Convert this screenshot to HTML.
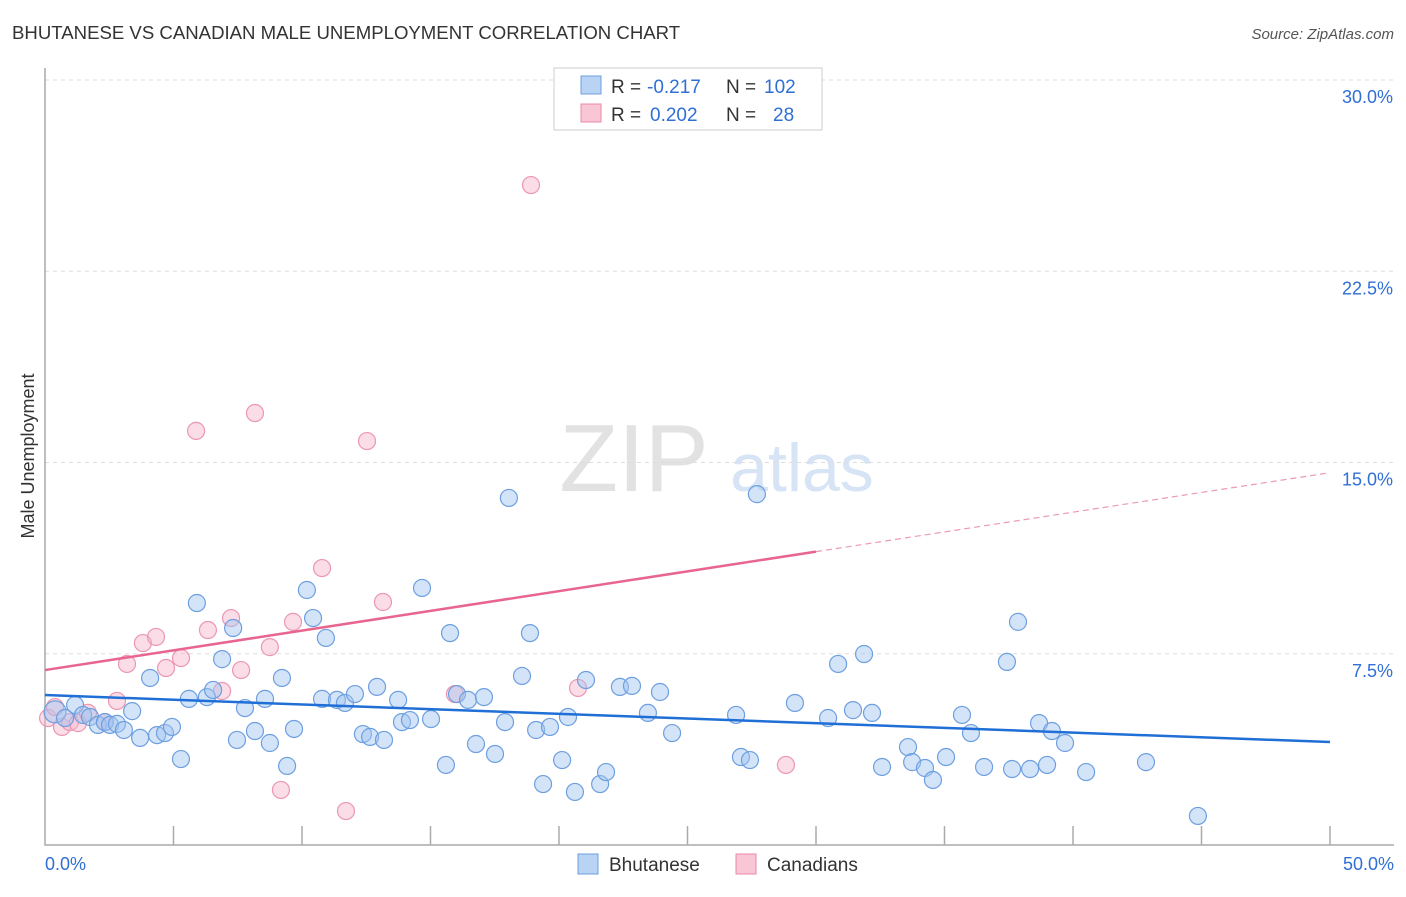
<!DOCTYPE html>
<html><head><meta charset="utf-8"><style>
body{margin:0;background:#fff;font-family:"Liberation Sans",sans-serif;}
svg text{font-family:"Liberation Sans",sans-serif;}
</style></head><body>
<svg id="c" width="1406" height="892">
<text x="12" y="39" font-size="18.6" fill="#333">BHUTANESE VS CANADIAN MALE UNEMPLOYMENT CORRELATION CHART</text>
<text x="1394" y="39" font-size="15" fill="#555" font-style="italic" text-anchor="end">Source: ZipAtlas.com</text>
<text x="634" y="491" font-size="96" fill="#e2e2e2" font-family="Liberation Serif" text-anchor="middle">ZIP</text>
<text x="802" y="491" font-size="68" fill="#d6e4f5" text-anchor="middle">atlas</text>
<text transform="translate(34,456) rotate(-90)" font-size="18" fill="#333" text-anchor="middle">Male Unemployment</text>
<g id="grid"></g><g id="pts"></g><g id="trend"></g>
<g>
<rect x="554" y="68" width="268" height="62" fill="#fff" stroke="#ccc"/>
<rect x="581" y="76" width="20" height="18" fill="#b9d3f5" stroke="#6d9fe0"/>
<rect x="581" y="104" width="20" height="18" fill="#f9c6d5" stroke="#e98aa8"/>
<text x="611" y="93" font-size="19" fill="#333">R =</text>
<text x="647" y="93" font-size="19" fill="#2f6fd6">-0.217</text>
<text x="726" y="93" font-size="19" fill="#333">N =</text>
<text x="764" y="93" font-size="19" fill="#2f6fd6">102</text>
<text x="611" y="121" font-size="19" fill="#333">R =</text>
<text x="650" y="121" font-size="19" fill="#2f6fd6">0.202</text>
<text x="726" y="121" font-size="19" fill="#333">N =</text>
<text x="773" y="121" font-size="19" fill="#2f6fd6">28</text>
</g>
<g>
<rect x="578" y="854" width="20" height="20" fill="#b9d3f5" stroke="#6d9fe0"/>
<text x="609" y="871" font-size="19" fill="#333">Bhutanese</text>
<rect x="736" y="854" width="20" height="20" fill="#f9c6d5" stroke="#e98aa8"/>
<text x="767" y="871" font-size="19" fill="#333">Canadians</text>
</g>
</svg>
<script>
const yTicks=[7.5,15,22.5,30];
const yTickLabels=["7.5%","15.0%","22.5%","30.0%"];
const xTicks=[0,5,10,15,20,25,30,35,40,45,50];
const xEndLabels=["0.0%","50.0%"];
const blueX=[0.39,0.78,1.17,1.48,1.75,2.06,2.33,2.53,2.80,3.07,3.39,3.70,4.09,4.36,4.67,4.94,5.29,5.60,5.91,6.30,6.54,6.89,7.32,7.47,7.78,8.17,8.56,8.75,9.22,9.42,9.69,10.19,10.43,10.78,10.93,11.36,11.67,12.06,12.37,12.65,12.92,13.19,13.74,13.89,14.20,14.67,15.02,15.60,15.76,16.03,16.46,16.77,17.08,17.51,17.90,18.05,18.56,18.87,19.11,19.38,19.65,20.12,20.35,20.62,21.05,21.60,21.83,22.37,22.84,23.46,23.93,24.40,26.89,27.08,27.43,27.70,29.18,30.47,30.86,31.44,31.87,32.18,32.57,33.58,33.74,34.24,34.55,35.06,35.68,36.03,36.54,37.43,37.63,37.86,38.33,38.68,38.99,39.18,39.69,40.51,42.84,44.86];
const blueY=[5.22,4.98,5.49,5.10,5.02,4.71,4.82,4.71,4.75,4.51,5.25,4.20,6.55,4.31,4.39,4.63,3.37,5.73,9.49,5.80,6.08,7.29,8.51,4.12,5.37,4.47,5.73,4.00,6.55,3.10,4.55,10.0,8.90,5.73,8.12,5.69,5.57,5.92,4.35,4.24,6.20,4.12,5.69,4.82,4.90,10.08,4.94,3.14,8.31,5.92,5.69,3.96,5.80,3.57,4.82,13.61,6.63,8.31,4.51,2.39,4.63,3.33,5.02,2.08,6.47,2.39,2.86,6.20,6.24,5.18,6.00,4.39,5.10,3.45,3.33,13.76,5.57,4.98,7.10,5.29,7.49,5.18,3.06,3.84,3.25,3.02,2.55,3.45,5.10,4.39,3.06,7.18,2.98,8.75,2.98,4.78,3.14,4.47,4.00,2.86,3.25,1.14];
const pinkX=[0.12,0.39,0.66,0.97,1.28,1.67,2.33,2.80,3.19,3.81,4.32,4.71,5.29,5.88,6.34,6.89,7.24,7.63,8.17,8.75,9.18,9.65,10.78,11.71,12.53,13.15,15.95,18.91,20.74,28.83];
const pinkY=[4.98,5.41,4.63,4.82,4.78,5.18,4.82,5.65,7.10,7.92,8.16,6.94,7.33,16.24,8.43,6.04,8.90,6.86,16.94,7.76,2.16,8.75,10.86,1.33,15.84,9.53,5.92,25.88,6.16,3.14];
const blueTrend=[5.88,4.04];
const pinkTrend=[6.86,14.6];
const pinkSolidEnd=30;
const NS="http://www.w3.org/2000/svg";
const X=v=>45+v*25.7, Y=v=>845-v*25.5;
function mk(tag,attrs,parent){const e=document.createElementNS(NS,tag);for(const k in attrs)e.setAttribute(k,attrs[k]);parent.appendChild(e);return e;}
const grid=document.getElementById('grid');
yTicks.forEach((t,i)=>{
 const l=mk('line',{x1:45,x2:1394,y1:Y(t),y2:Y(t),stroke:'#ddd','stroke-dasharray':'4,4'},grid);
 
 
 const tx=mk('text',{x:1393,y:Y(t)+23,'font-size':18,fill:'#2f6fd6','text-anchor':'end'},grid);
 tx.textContent=yTickLabels[i];
 
 
});
const ax=mk('path',{d:`M45,68 V845 H1394`,fill:'none',stroke:'#aaa','stroke-width':1.5},grid);


xTicks.forEach(t=>{
 if(t===0)return;
 const l=mk('line',{x1:X(t),x2:X(t),y1:826,y2:845,stroke:'#aaa','stroke-width':1.5},grid);
 
 
});
[[0,'start',45],[50,'end',1394]].forEach((d,i)=>{
 const tx=mk('text',{x:d[2],y:870,'font-size':18,fill:'#2f6fd6','text-anchor':d[1]},grid);
 tx.textContent=xEndLabels[i];
 
 
});
const pts=document.getElementById('pts');
pinkX.forEach((x,i)=>{
 const c=mk('circle',{cx:X(x),cy:Y(pinkY[i]),r:8.5,fill:'rgba(247,180,202,0.45)',stroke:'#ec97b2','stroke-width':1.2},pts);
 
 
});
blueX.forEach((x,i)=>{
 const c=mk('circle',{cx:X(x),cy:Y(blueY[i]),r:i===0?11:8.5,fill:'rgba(160,196,240,0.45)',stroke:'#6d9fe0','stroke-width':1.2},pts);
 
 
});
const tr=document.getElementById('trend');
const bl=mk('line',{x1:X(0),y1:Y(blueTrend[0]),x2:X(50),y2:Y(blueTrend[1]),stroke:'#1f6fd6','stroke-width':2.5},tr);


const pAt=v=>pinkTrend[0]+(pinkTrend[1]-pinkTrend[0])*v/50;
const pl=mk('line',{x1:X(0),y1:Y(pAt(0)),x2:X(pinkSolidEnd),y2:Y(pAt(pinkSolidEnd)),stroke:'#e8658f','stroke-width':2.5},tr);


const pd=mk('line',{x1:X(pinkSolidEnd),y1:Y(pAt(pinkSolidEnd)),x2:X(50),y2:Y(pAt(50)),stroke:'#eb9ab3','stroke-width':1.2,'stroke-dasharray':'6,4'},tr);


</script>
</body></html>
